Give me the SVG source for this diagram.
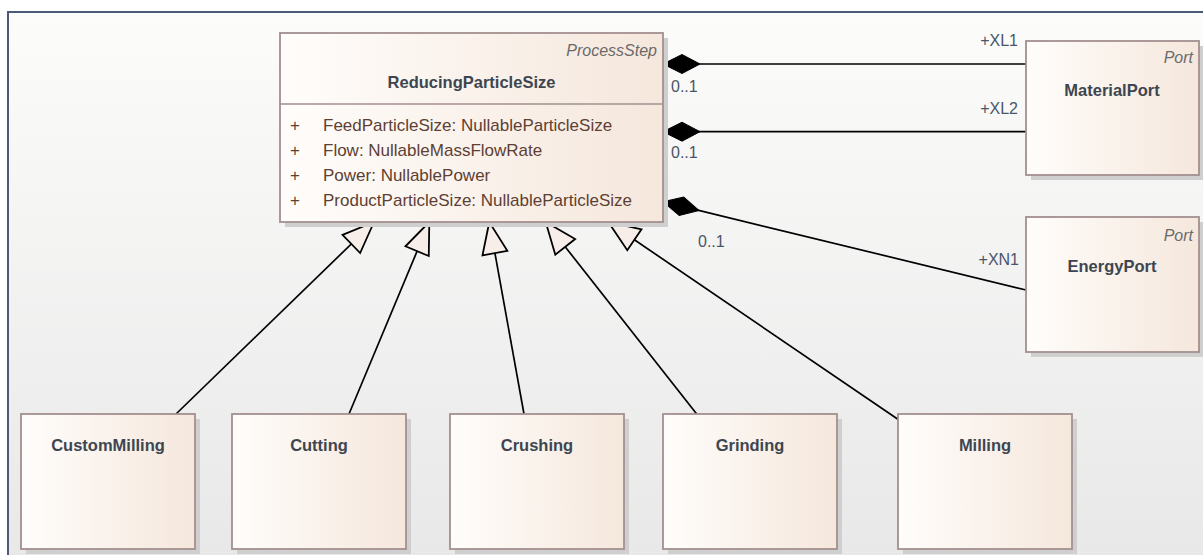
<svg xmlns="http://www.w3.org/2000/svg" width="1203" height="555" viewBox="0 0 1203 555">
<style>
  .shadow { fill: #cfcfcf; }
  .box { fill: url(#boxFill); stroke: #a38f8f; stroke-width: 1.8; }
  .div { stroke: #a38f8f; stroke-width: 1.5; }
  .name { font-family: "Liberation Sans", Arial, sans-serif; font-weight: bold; font-size: 16.5px; fill: #3d4650; text-anchor: middle; }
  .stereo { font-family: "Liberation Sans", Arial, sans-serif; font-style: italic; font-size: 16px; fill: #6a6a6a; text-anchor: end; }
  .attr { font-family: "Liberation Sans", Arial, sans-serif; font-size: 17px; fill: #5e3f33; }
  .lbl { font-family: "Liberation Sans", Arial, sans-serif; font-size: 16px; fill: #4a5568; }
  .conn { stroke: #000; stroke-width: 1.7; fill: none; }
</style>
<defs>
  <linearGradient id="boxFill" x1="0" y1="0" x2="1" y2="0">
    <stop offset="0" stop-color="#fffdfb"/>
    <stop offset="1" stop-color="#f5e7dc"/>
  </linearGradient>
  <linearGradient id="bgFill" x1="0" y1="0" x2="0" y2="1">
    <stop offset="0" stop-color="#fcfcfb"/>
    <stop offset="1" stop-color="#e8e8e8"/>
  </linearGradient>
  <marker id="tri" markerUnits="userSpaceOnUse" markerWidth="40" markerHeight="40" viewBox="-34 -16 38 32" refX="0" refY="0" orient="auto">
    <path d="M0,0 L-30,-12 L-30,12 Z" fill="#f8eee9" stroke="#000" stroke-width="1.7" stroke-linejoin="miter"/>
  </marker>
  <marker id="dia" markerUnits="userSpaceOnUse" markerWidth="44" markerHeight="26" viewBox="-40 -13 44 26" refX="0" refY="0" orient="auto">
    <path d="M0,0 L-19,-9.5 L-37,0 L-19,9.5 Z" fill="#000" stroke="#000" stroke-width="1"/>
  </marker>
</defs>

<rect x="0" y="0" width="1203" height="555" fill="#ffffff"/>
<rect x="8" y="12" width="1200" height="550" fill="url(#bgFill)"/>
<path d="M8,560 L8,12 L1203,12" fill="none" stroke="#4b5b75" stroke-width="2"/>

<g id="connectors">
  <line class="conn" x1="176" y1="414" x2="374" y2="222" marker-end="url(#tri)"/>
  <line class="conn" x1="349" y1="414" x2="429.3" y2="222" marker-end="url(#tri)"/>
  <line class="conn" x1="524" y1="414" x2="489.3" y2="222" marker-end="url(#tri)"/>
  <line class="conn" x1="696.7" y1="414" x2="545.7" y2="222" marker-end="url(#tri)"/>
  <line class="conn" x1="899" y1="420" x2="608.3" y2="222" marker-end="url(#tri)"/>
  <line class="conn" x1="1026" y1="64" x2="663" y2="64" marker-end="url(#dia)"/>
  <line class="conn" x1="1026" y1="131.7" x2="663" y2="131.7" marker-end="url(#dia)"/>
  <line class="conn" x1="1026" y1="290" x2="663" y2="201.7" marker-end="url(#dia)"/>
  <text class="lbl" x="1018" y="46" text-anchor="end">+XL1</text>
  <text class="lbl" x="671" y="91.7">0..1</text>
  <text class="lbl" x="1018" y="114" text-anchor="end">+XL2</text>
  <text class="lbl" x="671" y="158.3">0..1</text>
  <text class="lbl" x="698" y="246.7">0..1</text>
  <text class="lbl" x="1019" y="265" text-anchor="end">+XN1</text>
</g>

<g id="ReducingParticleSize">
  <rect class="shadow" x="285" y="38" width="383" height="189"/>
  <rect class="box" x="280" y="33" width="383" height="189"/>
  <line class="div" x1="280" y1="104" x2="663" y2="104"/>
  <text class="stereo" x="657" y="56">ProcessStep</text>
  <text class="name" x="471.5" y="88">ReducingParticleSize</text>
  <text class="attr" x="290" y="130.5">+</text>
  <text class="attr" x="323" y="130.5">FeedParticleSize: NullableParticleSize</text>
  <text class="attr" x="290" y="155.5">+</text>
  <text class="attr" x="323" y="155.5">Flow: NullableMassFlowRate</text>
  <text class="attr" x="290" y="180.5">+</text>
  <text class="attr" x="323" y="180.5">Power: NullablePower</text>
  <text class="attr" x="290" y="205.5">+</text>
  <text class="attr" x="323" y="205.5">ProductParticleSize: NullableParticleSize</text>
</g>

<g id="MaterialPort">
  <rect class="shadow" x="1031" y="46" width="173" height="134"/>
  <rect class="box" x="1026" y="41" width="173" height="134"/>
  <text class="stereo" x="1193" y="63">Port</text>
  <text class="name" x="1112" y="96">MaterialPort</text>
</g>

<g id="EnergyPort">
  <rect class="shadow" x="1031" y="222" width="173" height="135"/>
  <rect class="box" x="1026" y="217" width="173" height="135"/>
  <text class="stereo" x="1193" y="240.7">Port</text>
  <text class="name" x="1112" y="272">EnergyPort</text>
</g>

<g id="CustomMilling">
  <rect class="shadow" x="26" y="419" width="174" height="135"/>
  <rect class="box" x="21" y="414" width="174" height="135"/>
  <text class="name" x="108" y="451">CustomMilling</text>
</g>

<g id="Cutting">
  <rect class="shadow" x="237" y="419" width="174" height="135"/>
  <rect class="box" x="232" y="414" width="174" height="135"/>
  <text class="name" x="319" y="451">Cutting</text>
</g>

<g id="Crushing">
  <rect class="shadow" x="455" y="419" width="174" height="135"/>
  <rect class="box" x="450" y="414" width="174" height="135"/>
  <text class="name" x="537" y="451">Crushing</text>
</g>

<g id="Grinding">
  <rect class="shadow" x="668" y="419" width="174" height="135"/>
  <rect class="box" x="663" y="414" width="174" height="135"/>
  <text class="name" x="750" y="451">Grinding</text>
</g>

<g id="Milling">
  <rect class="shadow" x="903" y="419" width="174" height="135"/>
  <rect class="box" x="898" y="414" width="174" height="135"/>
  <text class="name" x="985" y="451">Milling</text>
</g>
</svg>
